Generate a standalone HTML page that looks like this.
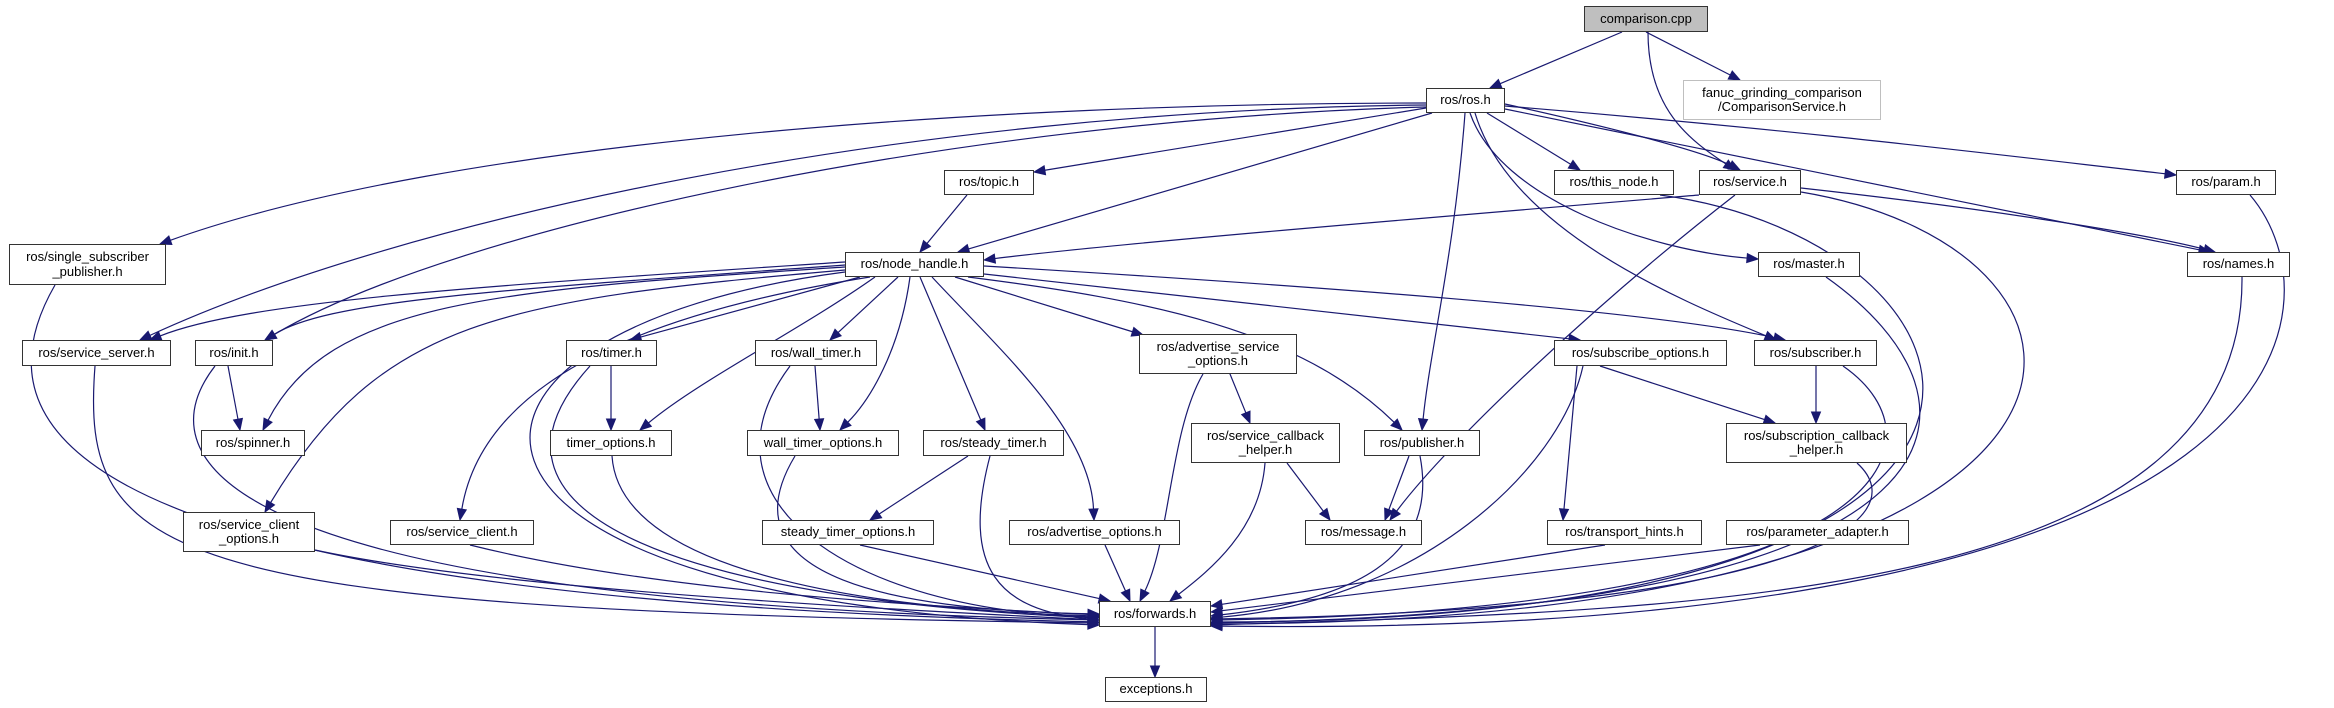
<!DOCTYPE html>
<html><head><meta charset="utf-8">
<style>
html,body{margin:0;padding:0;background:#fff;}
#c{position:relative;width:2334px;height:708px;overflow:hidden;background:#fff;}
svg{position:absolute;left:0;top:0;}
.n{position:absolute;box-sizing:border-box;border:1.6px solid #333;background:#fff;font-family:"Liberation Sans",sans-serif;font-size:13px;color:#000;text-align:center;display:flex;align-items:center;justify-content:center;line-height:14.5px;white-space:nowrap;}
</style></head><body>
<div id="c">
<svg id="s" width="2334" height="708" viewBox="0 0 2334 708"></svg>
<div class="n" style="left:1584px;top:6px;width:124px;height:26px;background:#bfbfbf;">comparison.cpp</div>
<div class="n" style="left:1683px;top:80px;width:198px;height:40px;border-color:#bfbfbf;">fanuc_grinding_comparison<br>/ComparisonService.h</div>
<div class="n" style="left:1426px;top:88px;width:79px;height:25px;">ros/ros.h</div>
<div class="n" style="left:944px;top:170px;width:90px;height:25px;">ros/topic.h</div>
<div class="n" style="left:1554px;top:170px;width:120px;height:25px;">ros/this_node.h</div>
<div class="n" style="left:1699px;top:170px;width:102px;height:25px;">ros/service.h</div>
<div class="n" style="left:2176px;top:170px;width:100px;height:25px;">ros/param.h</div>
<div class="n" style="left:9px;top:244px;width:157px;height:41px;">ros/single_subscriber<br>_publisher.h</div>
<div class="n" style="left:845px;top:252px;width:139px;height:25px;">ros/node_handle.h</div>
<div class="n" style="left:1758px;top:252px;width:102px;height:25px;">ros/master.h</div>
<div class="n" style="left:2187px;top:252px;width:103px;height:25px;">ros/names.h</div>
<div class="n" style="left:22px;top:340px;width:149px;height:26px;">ros/service_server.h</div>
<div class="n" style="left:195px;top:340px;width:78px;height:26px;">ros/init.h</div>
<div class="n" style="left:566px;top:340px;width:91px;height:26px;">ros/timer.h</div>
<div class="n" style="left:755px;top:340px;width:122px;height:26px;">ros/wall_timer.h</div>
<div class="n" style="left:1139px;top:334px;width:158px;height:40px;">ros/advertise_service<br>_options.h</div>
<div class="n" style="left:1554px;top:340px;width:173px;height:26px;">ros/subscribe_options.h</div>
<div class="n" style="left:1754px;top:340px;width:123px;height:26px;">ros/subscriber.h</div>
<div class="n" style="left:201px;top:430px;width:104px;height:26px;">ros/spinner.h</div>
<div class="n" style="left:550px;top:430px;width:122px;height:26px;">timer_options.h</div>
<div class="n" style="left:747px;top:430px;width:152px;height:26px;">wall_timer_options.h</div>
<div class="n" style="left:923px;top:430px;width:141px;height:26px;">ros/steady_timer.h</div>
<div class="n" style="left:1191px;top:423px;width:149px;height:40px;">ros/service_callback<br>_helper.h</div>
<div class="n" style="left:1364px;top:430px;width:116px;height:26px;">ros/publisher.h</div>
<div class="n" style="left:1726px;top:423px;width:181px;height:40px;">ros/subscription_callback<br>_helper.h</div>
<div class="n" style="left:183px;top:512px;width:132px;height:40px;">ros/service_client<br>_options.h</div>
<div class="n" style="left:390px;top:520px;width:144px;height:25px;">ros/service_client.h</div>
<div class="n" style="left:762px;top:520px;width:172px;height:25px;">steady_timer_options.h</div>
<div class="n" style="left:1009px;top:520px;width:171px;height:25px;">ros/advertise_options.h</div>
<div class="n" style="left:1305px;top:520px;width:117px;height:25px;">ros/message.h</div>
<div class="n" style="left:1547px;top:520px;width:155px;height:25px;">ros/transport_hints.h</div>
<div class="n" style="left:1726px;top:520px;width:183px;height:25px;">ros/parameter_adapter.h</div>
<div class="n" style="left:1099px;top:601px;width:112px;height:26px;">ros/forwards.h</div>
<div class="n" style="left:1105px;top:677px;width:102px;height:25px;">exceptions.h</div>
</div>
<script>
var s=document.getElementById('s'),out='';
var C='#191970';
function E(x1,y1,x2,y2,a,b,c,d){
  if(a===undefined){a=x1+(x2-x1)/3;b=y1+(y2-y1)/3;c=x1+2*(x2-x1)/3;d=y1+2*(y2-y1)/3;}
  var dx=x2-c,dy=y2-d,L=Math.sqrt(dx*dx+dy*dy)||1;dx/=L;dy/=L;
  var al=11,hw=4.5;
  var bx=x2-dx*al,by=y2-dy*al;
  out+='<path d="M'+x1+','+y1+' C'+a+','+b+' '+c+','+d+' '+bx+','+by+'" fill="none" stroke="'+C+'" stroke-width="1.2"/>';
  out+='<polygon points="'+x2+','+y2+' '+(bx-dy*hw)+','+(by+dx*hw)+' '+(bx+dy*hw)+','+(by-dx*hw)+'" fill="'+C+'" stroke="'+C+'" stroke-width="1"/>';
}
E(1622,32,1490,88);
E(1646,32,1740,80);
E(1648,32,1735,170,1648,110,1690,140);
E(1426,103,160,244,1000,103,450,140);
E(1426,105,140,340,900,110,400,220);
E(1426,107,265,340,950,120,450,230);
E(1426,108,1034,172);
E(1432,113,958,252);
E(1487,113,1580,170);
E(1505,104,1740,170,1600,125,1700,150);
E(1505,106,2176,175,1800,130,2000,155);
E(1505,109,2210,252,1800,170,2100,230);
E(1470,113,1758,259,1500,200,1650,250);
E(1465,113,1422,430,1455,250,1430,350);
E(1475,113,1776,340,1510,230,1680,300);
E(967,195,920,252);
E(1660,195,1211,622,2000,240,2150,620);
E(1699,195,984,260,1400,220,1100,245);
E(1735,195,1390,520,1600,300,1450,440);
E(1801,188,2215,252,2000,210,2150,235);
E(1801,192,1211,624,2150,250,2180,620);
E(2250,195,1211,626,2340,300,2330,640);
E(2242,277,1211,625,2245,600,1700,610);
E(1826,277,1211,623,2000,400,2000,610);
E(55,285,1099,622,-40,450,120,600);
E(845,262,150,340,500,285,250,300);
E(845,265,265,340,500,290,330,300);
E(845,267,263,430,500,290,330,300);
E(845,270,265,512,500,300,380,320);
E(845,272,1099,625,400,330,380,600);
E(870,277,460,520,600,320,480,400);
E(860,277,630,340);
E(875,277,640,430,800,330,700,380);
E(898,277,830,340);
E(910,277,840,430,900,350,870,400);
E(920,277,985,430);
E(932,277,1094,520,1000,350,1090,430);
E(955,277,1143,335);
E(968,277,1402,430,1150,300,1300,330);
E(984,274,1580,340);
E(984,266,1785,340,1300,285,1650,310);
E(228,366,240,430);
E(215,366,1099,620,150,450,180,600);
E(95,366,1099,623,80,560,160,610);
E(611,366,611,430);
E(590,366,1099,618,450,520,700,600);
E(612,456,1099,616,620,580,900,610);
E(815,366,820,430);
E(790,366,1099,617,690,500,850,610);
E(795,456,1099,614,720,580,900,610);
E(968,456,870,520);
E(990,456,1099,620,960,570,1000,610);
E(860,545,1110,601);
E(1105,545,1130,601);
E(1203,374,1140,601,1170,430,1170,540);
E(1230,374,1250,423);
E(1287,463,1330,520);
E(1265,463,1170,601,1260,530,1210,570);
E(1409,456,1385,520);
E(1420,456,1211,616,1440,560,1350,600);
E(1577,366,1563,520);
E(1600,366,1775,423);
E(1583,366,1211,618,1560,470,1420,600);
E(1816,366,1816,423);
E(1843,366,1211,620,1950,440,1900,610);
E(1857,463,1211,619,1920,520,1800,610);
E(1760,545,1211,612);
E(1605,545,1211,606);
E(315,550,1099,620,500,590,900,610);
E(470,545,1099,615,650,590,900,605);
E(1155,627,1155,677);
s.innerHTML=out;
</script>
</body></html>
